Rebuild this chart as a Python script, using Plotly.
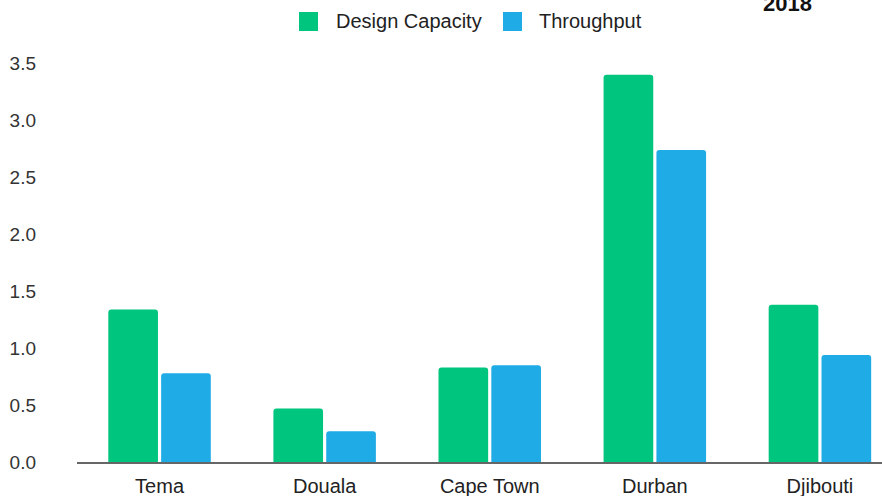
import plotly.graph_objects as go

categories = ["Tema", "Douala", "Cape Town", "Durban", "Djibouti"]
design_capacity = [1.34, 0.47, 0.83, 3.40, 1.38]
throughput = [0.78, 0.27, 0.85, 2.74, 0.94]
y_ticks = [0, 0.5, 1.0, 1.5, 2.0, 2.5, 3.0, 3.5]
series_names = ["Design Capacity", "Throughput"]

GREEN = "#00C57F"
BLUE = "#1FABE5"
FONT = "Liberation Sans, Arial, sans-serif"

fig = go.Figure()
fig.add_trace(go.Bar(name=series_names[0], x=categories, y=design_capacity,
                     marker=dict(color=GREEN, line=dict(width=0)), showlegend=False))
fig.add_trace(go.Bar(name=series_names[1], x=categories, y=throughput,
                     marker=dict(color=BLUE, line=dict(width=0)), showlegend=False))

# plot area: left 77px, top 52px, width 805px, height 410px
def px(x):
    return (x - 77) / 805.0

def py(y):
    return (462 - y) / 410.0

shapes = []
annotations = []
legend_items = [(series_names[0], GREEN, 299, 334), (series_names[1], BLUE, 503, 537)]
for name, color, sq_x, tx in legend_items:
    shapes.append(dict(type="rect", xref="paper", yref="paper",
                       x0=px(sq_x), x1=px(sq_x + 19), y0=py(31), y1=py(12),
                       fillcolor=color, line=dict(width=0)))
    annotations.append(dict(text=name, xref="paper", yref="paper", x=px(tx), y=py(21),
                            xanchor="left", yanchor="middle", showarrow=False,
                            font=dict(size=20, color="#222222")))
annotations.append(dict(text="<b>2018</b>", xref="paper", yref="paper",
                        x=px(787), y=py(4), xanchor="center", yanchor="middle",
                        showarrow=False, font=dict(size=22, color="#111111")))

fig.update_layout(
    width=882, height=496,
    margin=dict(l=77, r=0, t=52, b=34, autoexpand=False),
    paper_bgcolor="white", plot_bgcolor="white",
    font=dict(family=FONT, size=20, color="#222222"),
    barmode="group", bargap=0.36, bargroupgap=0.06, barcornerradius=3,
    showlegend=False,
    shapes=shapes,
    annotations=annotations,
)
fig.update_xaxes(range=[-0.5, 4.376], showline=True, linecolor="#666666", linewidth=2,
                 ticks="", showgrid=False, zeroline=False, ticklabelstandoff=5,
                 tickfont=dict(size=20, color="#222222"))
fig.update_yaxes(range=[0, 3.6], tickvals=y_ticks, tickformat=".1f", showgrid=False,
                 zeroline=False, showline=False, ticks="", ticklabelstandoff=40,
                 tickfont=dict(size=19, color="#333333"))

fig.write_html("out.html")
